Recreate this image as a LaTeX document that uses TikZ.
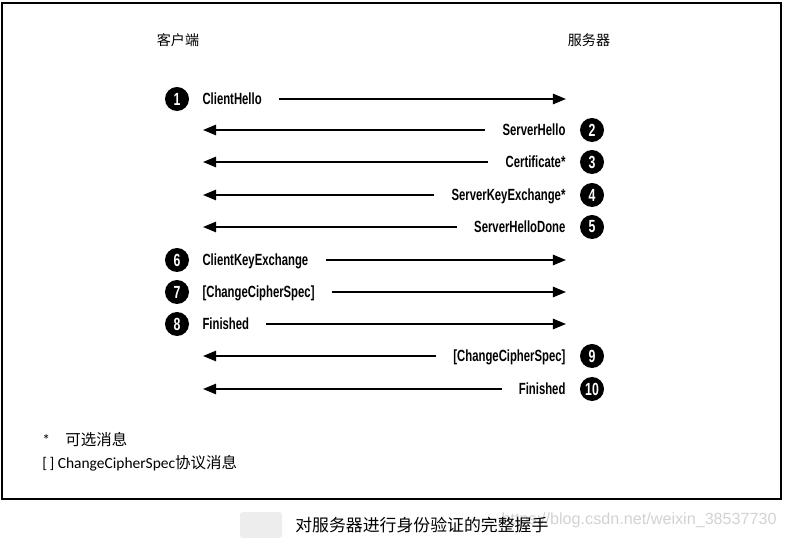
\documentclass[tikz,border=0pt]{standalone}
\usepackage{fontspec}
\setmainfont{Liberation Sans}
\newfontfamily\msgfont[FakeStretch=0.7]{Liberation Sans}
\newfontfamily\cjk{Noto Sans CJK SC}
\newfontfamily\notefont{Carlito}
\usetikzlibrary{arrows.meta, positioning}

\begin{document}
\begin{tikzpicture}[
        x=0.025cm, y=-0.025cm,
        num/.style={circle, fill=black, inner sep=0pt, minimum size=0.6cm, text=white, font=\msgfont\bfseries\fontsize{12.5}{12}\selectfont},
        msg/.style={inner sep=0pt, text height=8pt, text depth=0pt, font=\msgfont\bfseries\fontsize{11.5}{12}\selectfont},
        party/.style={font=\cjk\fontsize{10}{12}\selectfont},
        note/.style={anchor=west, inner sep=0pt, font=\notefont\fontsize{11}{13}\selectfont},
        arrow/.style={-{Triangle[length=0.33cm, width=0.26cm]}, line width=1.4pt, shorten <=0.425cm}
    ]
        \useasboundingbox (0,0) rectangle (785,538);
        \draw[line width=1.4pt] (2,3) rectangle (781,499);

        \node[party] (client) at (178,40) {客户端};
        \node[party] (server) at (589,40) {服务器};
        \coordinate (cliend) at (203,0);
        \coordinate (srvend) at (566,0);

        % client -> server
        \node[num] (c1) at (177,99) {1};
        \node[msg, right=0.325cm of c1] (m1) {ClientHello};
        \draw[arrow] (m1.east) -- (m1 -| srvend);

        % server -> client
        \node[num] (c2) at (592,130) {2};
        \node[msg, left=0.35cm of c2] (m2) {ServerHello};
        \draw[arrow] (m2.west) -- (m2 -| cliend);
        \node[num] (c3) at (592,162) {3};
        \node[msg, left=0.35cm of c3] (m3) {Certificate*};
        \draw[arrow] (m3.west) -- (m3 -| cliend);
        \node[num] (c4) at (592,195) {4};
        \node[msg, left=0.35cm of c4] (m4) {ServerKeyExchange*};
        \draw[arrow] (m4.west) -- (m4 -| cliend);
        \node[num] (c5) at (592,227) {5};
        \node[msg, left=0.35cm of c5] (m5) {ServerHelloDone};
        \draw[arrow] (m5.west) -- (m5 -| cliend);

        % client -> server
        \node[num] (c6) at (177,260) {6};
        \node[msg, right=0.325cm of c6] (m6) {ClientKeyExchange};
        \draw[arrow] (m6.east) -- (m6 -| srvend);
        \node[num] (c7) at (177,292) {7};
        \node[msg, right=0.325cm of c7] (m7) {[ChangeCipherSpec]};
        \draw[arrow] (m7.east) -- (m7 -| srvend);
        \node[num] (c8) at (177,324) {8};
        \node[msg, right=0.325cm of c8] (m8) {Finished};
        \draw[arrow] (m8.east) -- (m8 -| srvend);

        % server -> client
        \node[num] (c9) at (592,356) {9};
        \node[msg, left=0.35cm of c9] (m9) {[ChangeCipherSpec]};
        \draw[arrow] (m9.west) -- (m9 -| cliend);
        \node[num] (c10) at (592,389) {10};
        \node[msg, left=0.35cm of c10] (m10) {Finished};
        \draw[arrow] (m10.west) -- (m10 -| cliend);

        \node[note] (optional) at (42,440) {*\quad{\cjk 可选消息}};
        \node[note] (ccsnote) at (42,463) {[\,]\ ChangeCipherSpec{\cjk 协议消息}};

        \fill[gray!14, rounded corners=2pt] (240,512) rectangle (282,538);
        \node[anchor=east, inner sep=0pt, text=gray!35, font=\fontsize{11.5}{13}\selectfont] (mark) at (777,520) {https://blog.csdn.net/weixin\_38537730};
        \node[anchor=west, inner sep=0pt, font=\cjk\fontsize{12}{14}\selectfont] (caption) at (295,525) {对服务器进行身份验证的完整握手};
    \end{tikzpicture}
\end{document}
